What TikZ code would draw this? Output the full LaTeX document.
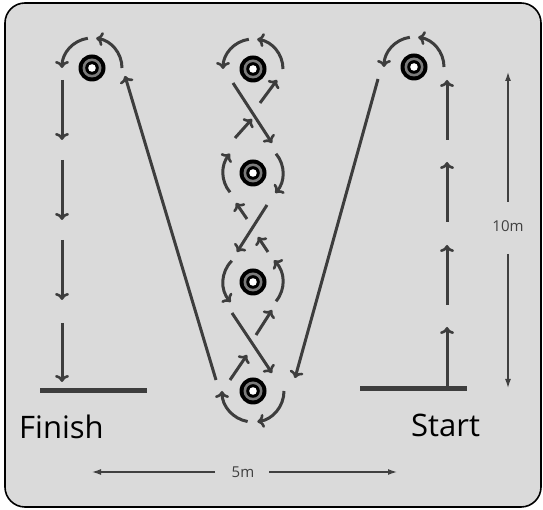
\documentclass[tikz,border=0pt]{standalone}
\usepackage{fontspec}
\setmainfont{Open Sans}
\usepackage{tikz}
\usetikzlibrary{arrows.meta}
\tikzset{>={Computer Modern Rightarrow[length=7pt,width=14pt,line width=2.6pt]}}
\definecolor{FieldGray}{HTML}{DADADA}
\definecolor{RunGray}{HTML}{3D3D3D}
\definecolor{RingGray}{HTML}{7C7C7C}
\definecolor{DimGray}{HTML}{404040}
\tikzset{
  run/.style={->, line width=3pt, RunGray},
  dim/.style={-{Latex[length=9pt,width=6pt]}, line width=1.3pt, DimGray},
  cone/.style={circle, fill=black, minimum size=27pt, inner sep=0pt,
    path picture={
      \fill[RingGray] (path picture bounding box.center) circle (9.5pt);
      \fill[black] (path picture bounding box.center) circle (6.8pt);
      \fill[white] (path picture bounding box.center) circle (3.8pt);}},
  label/.style={inner sep=0pt, anchor=base west, font=\fontsize{31}{31}\selectfont, black},
  dimlabel/.style={inner sep=0pt, font=\fontsize{15}{15}\selectfont, DimGray}
}

\begin{document}
\begin{tikzpicture}[x=1pt,y=1pt]
  \useasboundingbox[fill=white] (0,0) rectangle (543,510);
  \filldraw[fill=FieldGray, draw=black, line width=1.6pt, rounded corners=20pt] (5,3) rectangle (541,507);

  % cones
  \node[cone] (tl) at (92,442) {};
  \node[cone] (tm) at (253,441) {};
  \node[cone] (tr) at (414,443) {};
  \node[cone] (m2) at (253,337) {};
  \node[cone] (m3) at (253,228) {};
  \node[cone] (bm) at (253,119) {};

  % turns round the top cones
  \foreach \c in {tl,tm,tr}{
    \draw[run] (\c) ++(0:30pt) arc[start angle=0, end angle=82, radius=30pt];
    \draw[run] (\c) ++(98:30pt) arc[start angle=98, end angle=180, radius=30pt];
  }
  % middle cones
  \draw[run] (m2) ++(220:30pt) arc[start angle=220, end angle=140, radius=30pt];
  \draw[run] (m2) ++(40:30pt) arc[start angle=40, end angle=-42, radius=30pt];
  \draw[run] (m3) ++(135:30pt) arc[start angle=135, end angle=222, radius=30pt];
  \draw[run] (m3) ++(-40:30pt) arc[start angle=-40, end angle=46, radius=30pt];
  % bottom cone
  \draw[run] (bm) ++(0:31pt) arc[start angle=0, end angle=-82, radius=31pt];
  \draw[run] (bm) ++(-100:31pt) arc[start angle=-100, end angle=-180, radius=31pt];

  % long legs
  \draw[run] (216,130) -- (125,434);
  \draw[run] (378,431) -- (295,132);

  % weaving between the middle cones
  \draw[run] (233,427) -- (272,367);
  \draw[run] (235,372) -- (252,391);
  \draw[run] (260,407) -- (277,430);
  \draw[run] (267,305) -- (237,258);
  \draw[run] (247,291) -- (236,307);
  \draw[run] (268,258) -- (258,273);
  \draw[run] (232,197) -- (272,137);
  \draw[run] (230,130) -- (247,155);
  \draw[run] (256,175) -- (272,200);

  % side lanes
  \foreach \a/\b in {430/370, 350/290, 270/210, 187/128}
    \draw[run] (62,\a) -- (62,\b);
  \foreach \a/\b in {370/430, 288/348, 205/265, 121/183}
    \draw[run] (447,\a) -- (447,\b);

  % finish and start lines
  \draw[line width=5pt, RunGray] (40,119) -- (147,119);
  \draw[line width=5pt, RunGray] (360,121) -- (467,121);
  \node[label] (finish) at (19,71) {Finish};
  \node[label] (start) at (411,73) {Start};

  % distances
  \node[dimlabel] (five) at (243,38) {5m};
  \draw[dim] (215,38) -- (92,38);
  \draw[dim] (269,38) -- (397,38);
  \node[dimlabel] (ten) at (508,284) {10m};
  \draw[dim] (508,308) -- (508,438);
  \draw[dim] (508,256) -- (508,122);
\end{tikzpicture}
\end{document}
